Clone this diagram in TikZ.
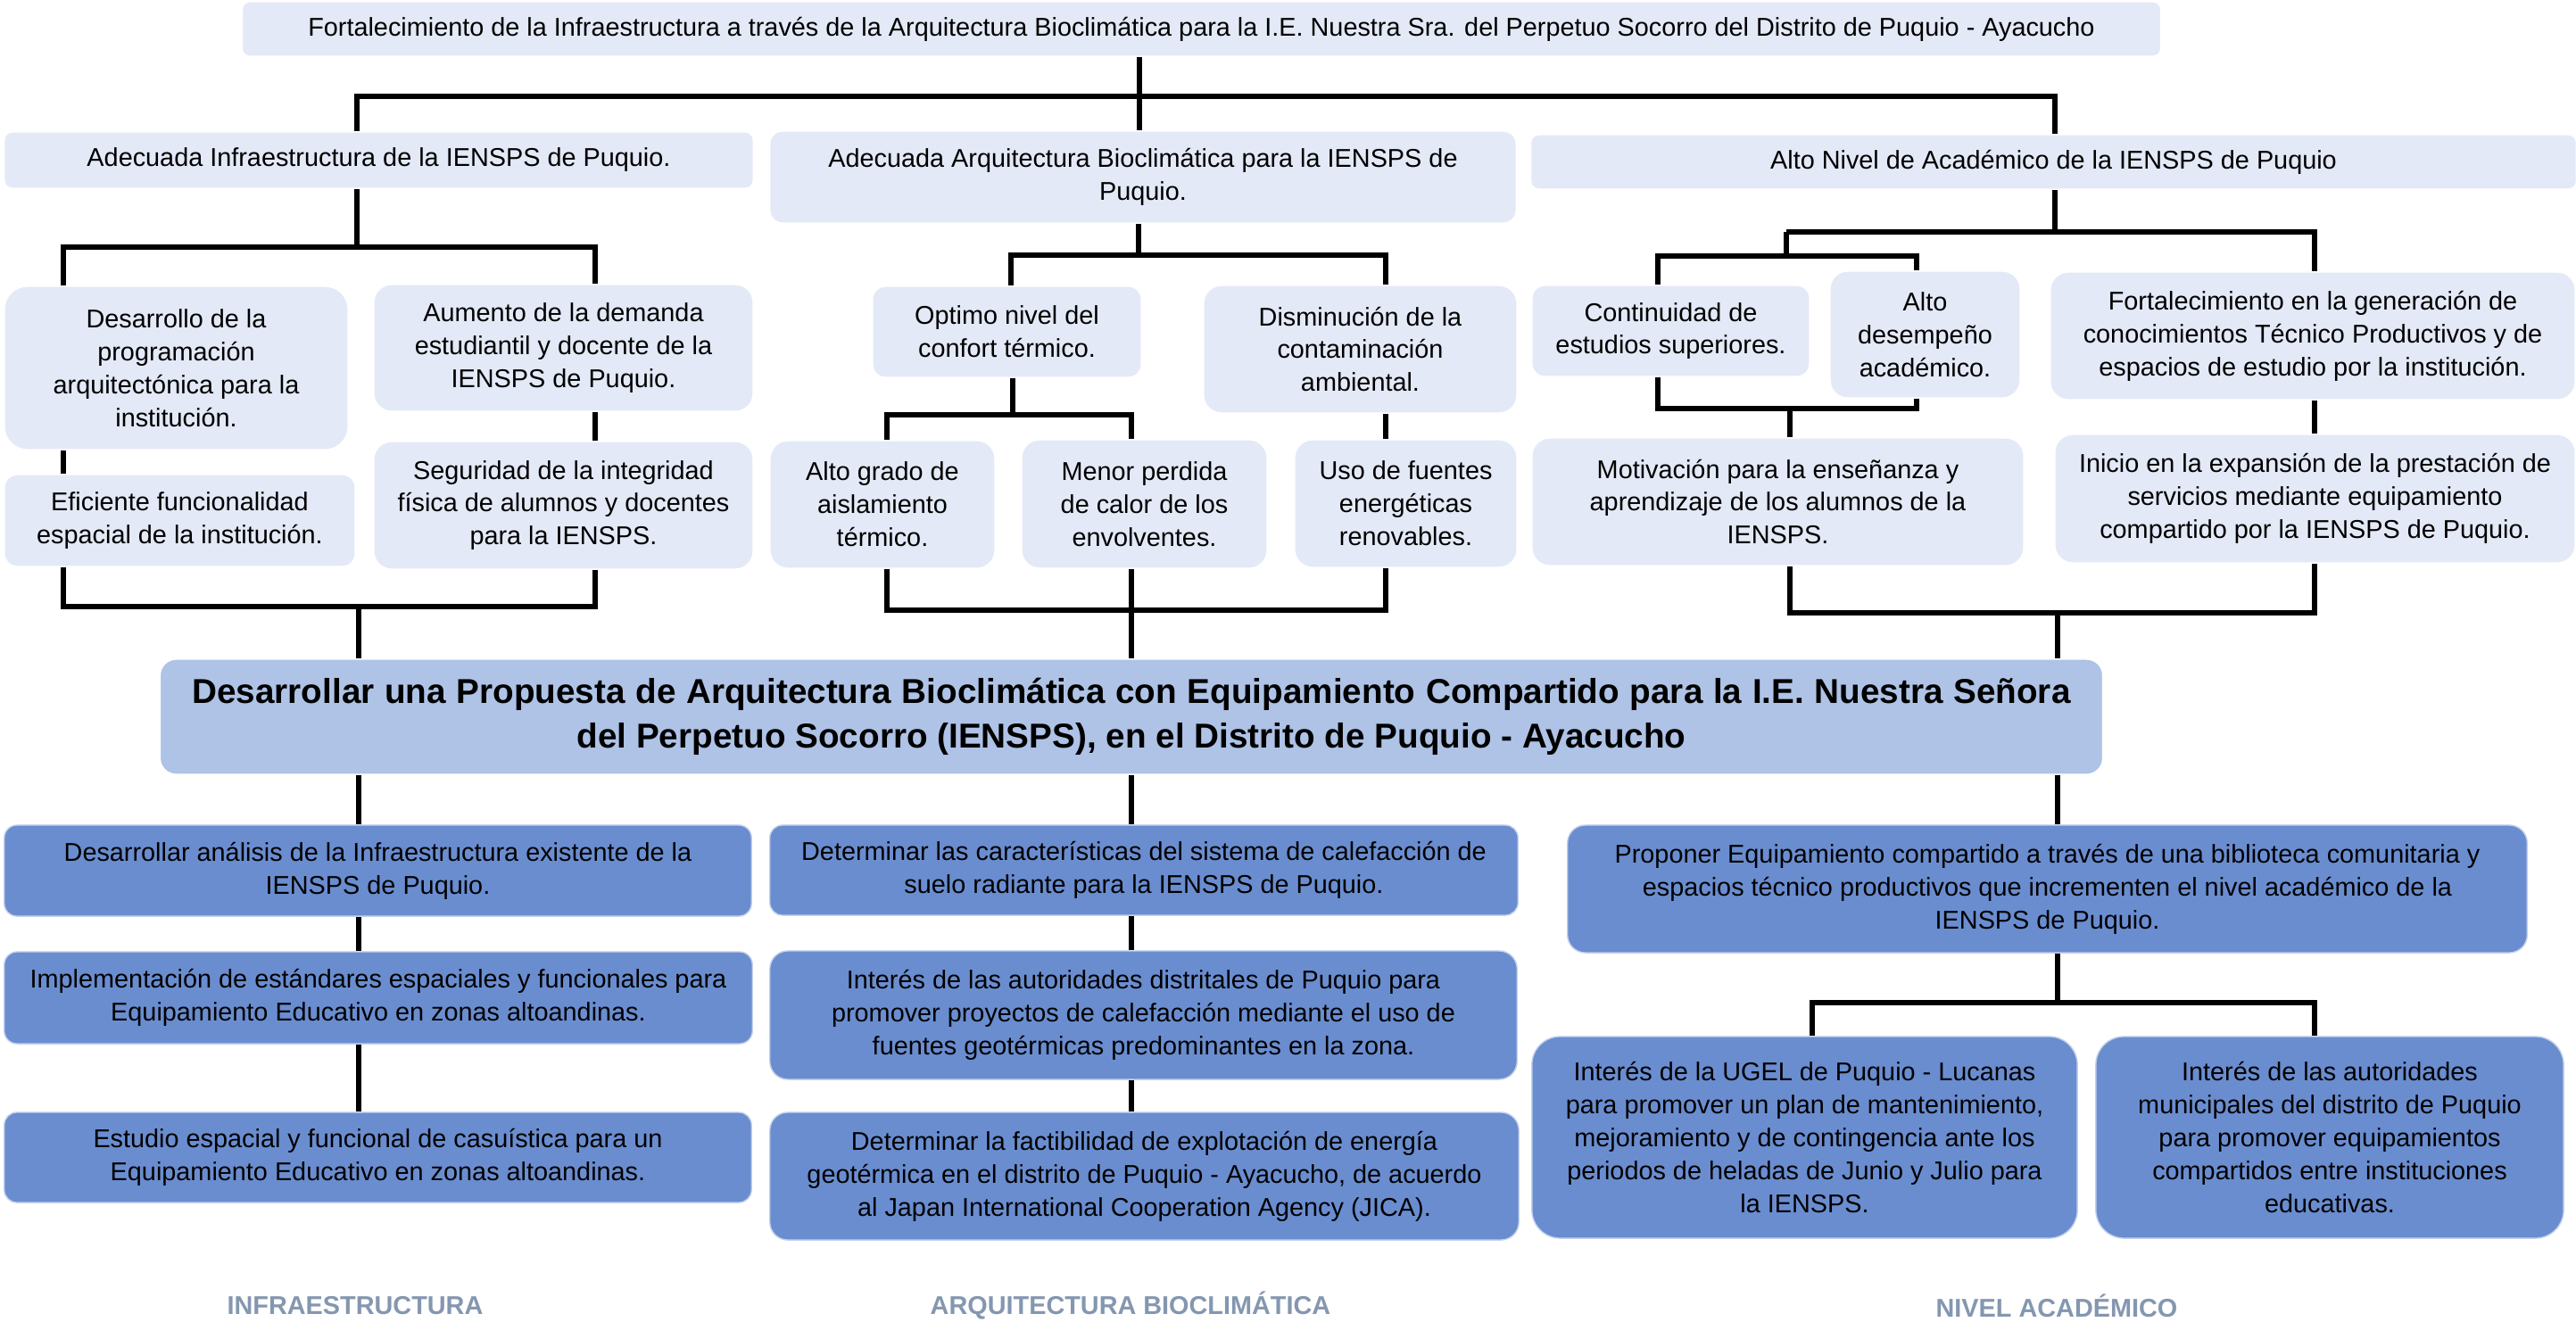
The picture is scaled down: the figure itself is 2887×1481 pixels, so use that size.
\documentclass[tikz,border=0pt]{standalone}
\usepackage{fontspec}
\setmainfont{Liberation Sans}
\usepackage{tikz}
\usetikzlibrary{backgrounds}
\definecolor{paleBlue}{HTML}{E3E9F6}
\definecolor{midBlue}{HTML}{6A8DD0}
\definecolor{goalBlue}{HTML}{AEC3E6}
\definecolor{tagGrey}{HTML}{8497B0}
\newcommand{\boxfont}{\fontsize{8.2}{10.5}\selectfont}
\tikzstyle{soft} = [draw=white, fill=paleBlue, align=center, inner sep=0pt, font=\boxfont]
\tikzstyle{deep} = [draw=white!60!midBlue, fill=midBlue, align=center, inner sep=0pt, font=\boxfont]
\tikzstyle{goal} = [draw=white, fill=goalBlue, align=center, inner sep=0pt, font=\bfseries\fontsize{11}{14.2}\selectfont]
\tikzstyle{tag} = [text=tagGrey, font=\bfseries\fontsize{8.2}{10}\selectfont]
\tikzstyle{link} = [line width=1.5pt]
\tikzset{boxdim/.style 2 args={minimum width=#1cm, minimum height=#2cm, rounded corners=0.14*#2cm}}

\begin{document}
\begin{tikzpicture}[x=0.01cm, y=-0.01cm]
	\useasboundingbox (0,0) rectangle (2887,1481);
	% upper tree
	\node[soft, boxdim={21.49}{0.61}] (title) at (1346.5,32.5) {Fortalecimiento de la Infraestructura a través de la Arquitectura Bioclimática para la I.E. Nuestra Sra. del Perpetuo Socorro del Distrito de Puquio - Ayacucho};
	\node[soft, boxdim={8.39}{0.63}] (infra) at (424.5,179.5) {Adecuada Infraestructura de la IENSPS de Puquio.};
	\node[soft, boxdim={8.36}{1.03}] (bioc) at (1281,198.5) {Adecuada Arquitectura Bioclimática para la IENSPS de\\Puquio.};
	\node[soft, boxdim={11.71}{0.61}] (acad) at (2301.5,181.5) {Alto Nivel de Académico de la IENSPS de Puquio};
	\node[soft, boxdim={3.85}{1.83}] (progArq) at (197.5,412.5) {Desarrollo de la\\programación\\arquitectónica para la\\institución.};
	\node[soft, boxdim={4.25}{1.42}] (demanda) at (631.5,390) {Aumento de la demanda\\estudiantil y docente de la\\IENSPS de Puquio.};
	\node[soft, boxdim={3.93}{1.03}] (funcional) at (201.5,583.5) {Eficiente funcionalidad\\espacial de la institución.};
	\node[soft, boxdim={4.25}{1.43}] (seguridad) at (631.5,566.5) {Seguridad de la integridad\\física de alumnos y docentes\\para la IENSPS.};
	\node[soft, boxdim={3.01}{1.02}] (confort) at (1128.5,372) {Optimo nivel del\\confort térmico.};
	\node[soft, boxdim={3.51}{1.43}] (contam) at (1524.5,391.5) {Disminución de la\\contaminación\\ambiental.};
	\node[soft, boxdim={2.52}{1.43}] (aislam) at (989,565.5) {Alto grado de\\aislamiento\\térmico.};
	\node[soft, boxdim={2.75}{1.44}] (calor) at (1282.5,565) {Menor perdida\\de calor de los\\envolventes.};
	\node[soft, boxdim={2.49}{1.43}] (fuentes) at (1575.5,564.5) {Uso de fuentes\\energéticas\\renovables.};
	\node[soft, boxdim={3.11}{1.02}] (continuidad) at (1872.5,371) {Continuidad de\\estudios superiores.};
	\node[soft, boxdim={2.13}{1.42}] (desempeno) at (2157.5,375) {Alto\\desempeño\\académico.};
	\node[soft, boxdim={5.88}{1.43}] (fortalec) at (2592,376.5) {Fortalecimiento en la generación de\\conocimientos Técnico Productivos y de\\espacios de estudio por la institución.};
	\node[soft, boxdim={5.51}{1.43}] (motivacion) at (1992.5,562.5) {Motivación para la enseñanza y\\aprendizaje de los alumnos de la\\IENSPS.};
	\node[soft, boxdim={5.83}{1.44}] (inicio) at (2594.5,559) {Inicio en la expansión de la prestación de\\servicios mediante equipamiento\\compartido por la IENSPS de Puquio.};
	% central goal
	\node[goal, boxdim={21.76}{1.29}] (proposal) at (1268,803.5) {\makebox[21.04cm][s]{Desarrollar una Propuesta de Arquitectura Bioclimática con Equipamiento Compartido para la I.E. Nuestra Señora}\\del Perpetuo Socorro (IENSPS), en el Distrito de Puquio - Ayacucho};
	% lower tree
	\node[deep, boxdim={8.37}{1.02}] (analisis) at (423.5,976) {Desarrollar análisis de la Infraestructura existente de la\\IENSPS de Puquio.};
	\node[deep, boxdim={8.38}{1.03}] (estandares) at (424,1118.5) {Implementación de estándares espaciales y funcionales para\\Equipamiento Educativo en zonas altoandinas.};
	\node[deep, boxdim={8.37}{1.01}] (estudio) at (423.5,1297.5) {Estudio espacial y funcional de casuística para un\\Equipamiento Educativo en zonas altoandinas.};
	\node[deep, boxdim={8.38}{1.01}] (suelo) at (1282,975.5) {Determinar las características del sistema de calefacción de\\suelo radiante para la IENSPS de Puquio.};
	\node[deep, boxdim={8.37}{1.44}] (interes) at (1281.5,1138) {Interés de las autoridades distritales de Puquio para\\promover proyectos de calefacción mediante el uso de\\fuentes geotérmicas predominantes en la zona.};
	\node[deep, boxdim={8.39}{1.43}] (factib) at (1282.5,1318.5) {Determinar la factibilidad de explotación de energía\\geotérmica en el distrito de Puquio - Ayacucho, de acuerdo\\al Japan International Cooperation Agency (JICA).};
	\node[deep, boxdim={10.75}{1.43}] (equip) at (2294.5,996.5) {Proponer Equipamiento compartido a través de una biblioteca comunitaria y\\espacios técnico productivos que incrementen el nivel académico de la\\IENSPS de Puquio.};
	\node[deep, boxdim={6.11}{2.26}] (ugel) at (2022.5,1275) {Interés de la UGEL de Puquio - Lucanas\\para promover un plan de mantenimiento,\\mejoramiento y de contingencia ante los\\periodos de heladas de Junio y Julio para\\la IENSPS.};
	\node[deep, boxdim={5.24}{2.26}] (municip) at (2611,1275) {Interés de las autoridades\\municipales del distrito de Puquio\\para promover equipamientos\\compartidos entre instituciones\\educativas.};
	% column tags
	\node[tag] (tagInfra) at (398,1464) {INFRAESTRUCTURA};
	\node[tag] (tagBioc) at (1267,1464) {ARQUITECTURA BIOCLIMÁTICA};
	\node[tag] (tagAcad) at (2305,1464) {NIVEL ACADÉMICO};

	\begin{pgfonlayer}{background}
	% junctions
	\coordinate (tb) at (1277,108); \coordinate (tbl) at (400,108); \coordinate (tbr) at (2303,108);
	\coordinate (lb) at (400,277); \coordinate (lbl) at (71,277); \coordinate (lbr) at (667,277);
	\coordinate (ll) at (71,680); \coordinate (lr) at (667,680); \coordinate (lm) at (402,680);
	\coordinate (mb) at (1276,286); \coordinate (mbl) at (1133,286); \coordinate (mbr) at (1553,286);
	\coordinate (db) at (1135,465); \coordinate (dbl) at (994,465); \coordinate (dbr) at (1268,465);
	\coordinate (el) at (994,684); \coordinate (er) at (1553,684); \coordinate (em) at (1268,684);
	\coordinate (rb) at (2303,260); \coordinate (rbl) at (2002,260); \coordinate (rbr) at (2594,260);
	\coordinate (fb) at (2002,287); \coordinate (fbl) at (1858,287); \coordinate (fbr) at (2148,287);
	\coordinate (gl) at (1858,458); \coordinate (gr) at (2148,458); \coordinate (gm) at (2006,458);
	\coordinate (hl) at (2006,687); \coordinate (hr) at (2594,687); \coordinate (hm) at (2306,687);
	\coordinate (kb) at (2306,1124); \coordinate (kbl) at (2031,1124); \coordinate (kbr) at (2594,1124);
	% top level
	\draw[link] (title.south -| tb) -- (bioc.north -| tb);
	\draw[link] (infra.north -| tbl) -- (tbl) -- (tbr) -- (acad.north -| tbr);
	% infraestructura
	\draw[link] (infra.south -| lb) -- (lb);
	\draw[link] (progArq.north -| lbl) -- (lbl) -- (lbr) -- (demanda.north -| lbr);
	\draw[link] (progArq.south -| lbl) -- (funcional.north -| lbl);
	\draw[link] (demanda.south -| lbr) -- (seguridad.north -| lbr);
	\draw[link] (funcional.south -| ll) -- (ll) -- (lr) -- (seguridad.south -| lr);
	\draw[link] (lm) -- (proposal.north -| lm);
	% bioclimatica
	\draw[link] (bioc.south -| mb) -- (mb);
	\draw[link] (confort.north -| mbl) -- (mbl) -- (mbr) -- (contam.north -| mbr);
	\draw[link] (confort.south -| db) -- (db);
	\draw[link] (aislam.north -| dbl) -- (dbl) -- (dbr) -- (calor.north -| dbr);
	\draw[link] (contam.south -| mbr) -- (fuentes.north -| mbr);
	\draw[link] (aislam.south -| el) -- (el) -- (er) -- (fuentes.south -| er);
	\draw[link] (calor.south -| em) -- (proposal.north -| em);
	% academico
	\draw[link] (acad.south -| rb) -- (rb);
	\draw[link] (rbl) -- (rbr) -- (fortalec.north -| rbr);
	\draw[link] (rbl) -- (fb);
	\draw[link] (continuidad.north -| fbl) -- (fbl) -- (fbr) -- (desempeno.north -| fbr);
	\draw[link] (continuidad.south -| gl) -- (gl) -- (gr) -- (desempeno.south -| gr);
	\draw[link] (gm) -- (motivacion.north -| gm);
	\draw[link] (fortalec.south -| rbr) -- (inicio.north -| rbr);
	\draw[link] (motivacion.south -| hl) -- (hl) -- (hr) -- (inicio.south -| hr);
	\draw[link] (hm) -- (proposal.north -| hm);
	% lower tree
	\draw[link] (proposal.south -| lm) -- (analisis.north -| lm);
	\draw[link] (analisis.south -| lm) -- (estandares.north -| lm);
	\draw[link] (estandares.south -| lm) -- (estudio.north -| lm);
	\draw[link] (proposal.south -| em) -- (suelo.north -| em);
	\draw[link] (suelo.south -| em) -- (interes.north -| em);
	\draw[link] (interes.south -| em) -- (factib.north -| em);
	\draw[link] (proposal.south -| hm) -- (equip.north -| hm);
	\draw[link] (equip.south -| kb) -- (kb);
	\draw[link] (ugel.north -| kbl) -- (kbl) -- (kbr) -- (municip.north -| kbr);
	\end{pgfonlayer}
\end{tikzpicture}
\end{document}
